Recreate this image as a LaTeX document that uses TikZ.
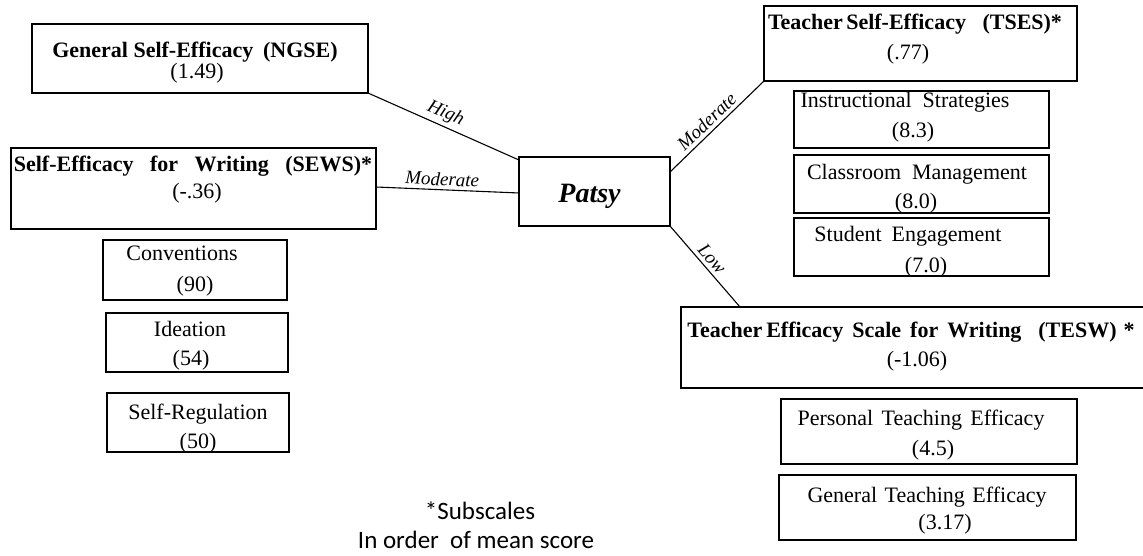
\documentclass[tikz,border=0pt]{standalone}
\usepackage{fontspec}
\setmainfont{Liberation Serif}
\newfontfamily\calibfont{Carlito}
\begin{document}
\begin{tikzpicture}[x=1pt,y=-1pt,
  bx/.style={draw=black, line width=1.1pt, inner sep=0pt, outer sep=0pt},
  tx/.style={anchor=base, inner sep=0pt, font=\fontsize{22}{26}\selectfont},
  btx/.style={anchor=base, inner sep=0pt, font=\fontsize{22}{26}\selectfont\bfseries},
  elab/.style={sloped, above, inner sep=3.5pt, font=\fontsize{19}{22}\selectfont\itshape},
  foot/.style={anchor=base, inner sep=0pt, font=\calibfont\fontsize{25}{30}\selectfont},
  conn/.style={line width=1.1pt}
]
\fill[white] (0,0) rectangle (1143,556);
\useasboundingbox (0,0) rectangle (1143,556);

% ---- boxes ----
\node[bx, minimum width=336pt, minimum height=69pt] (ngse) at (200,58.5) {};
\node[bx, minimum width=365pt, minimum height=81pt] (sews) at (193.5,188.5) {};
\node[bx, minimum width=184pt, minimum height=60pt] (conv) at (195,270) {};
\node[bx, minimum width=182pt, minimum height=59pt] (idea) at (197,342.5) {};
\node[bx, minimum width=182pt, minimum height=59pt] (sreg) at (198,422.5) {};
\node[bx, minimum width=151pt, minimum height=69pt] (patsy) at (594.5,191.5) {};
\node[bx, minimum width=313pt, minimum height=75pt] (tses) at (920.5,43.5) {};
\node[bx, minimum width=255pt, minimum height=57pt] (instr) at (921.5,119.5) {};
\node[bx, minimum width=255pt, minimum height=58pt] (class) at (921.5,184) {};
\node[bx, minimum width=255pt, minimum height=58pt] (stud) at (921.5,247) {};
\node[bx, minimum width=465pt, minimum height=81pt] (tesw) at (913.5,347.5) {};
\node[bx, minimum width=296pt, minimum height=65pt] (pers) at (929,431.5) {};
\node[bx, minimum width=297pt, minimum height=65pt] (gen) at (927.5,507.5) {};

% ---- texts ----
\node[btx] (ngseA) at (195,58) {General Self-Efficacy\hspace{0.45em}(NGSE)};
\node[tx] (ngseB) at (197,79) {(1.49)};

\node[btx] (sewsA) at (193,172) {Self-Efficacy\hspace{0.75em}for\hspace{0.75em}Writing\hspace{0.75em}(SEWS)*};
\node[tx] (sewsB) at (197,199) {(-.36)};

\node[tx] (convA) at (182,260) {Conventions};
\node[tx] (convB) at (195,291) {(90)};
\node[tx] (ideaA) at (190,336) {Ideation};
\node[tx] (ideaB) at (191,365) {(54)};
\node[tx] (sregA) at (198,419) {Self-Regulation};
\node[tx] (sregB) at (198,448) {(50)};

\node[anchor=base, inner sep=0pt, font=\fontsize{28}{32}\selectfont\bfseries\itshape] (patsyT) at (589.5,203) {Patsy};

\node[btx] (tsesA) at (915,30) {Teacher\hspace{0.15em}Self-Efficacy\hspace{0.75em}(TSES)*};
\node[tx] (tsesB) at (908,60) {(.77)};

\node[tx] (instrA) at (905,108) {Instructional\hspace{0.5em}Strategies};
\node[tx] (instrB) at (913,138) {(8.3)};
\node[tx] (classA) at (917,180) {Classroom\hspace{0.5em}Management};
\node[tx] (classB) at (916,208) {(8.0)};
\node[tx] (studA) at (908,241) {Student\hspace{0.45em}Engagement};
\node[tx] (studB) at (926,272) {(7.0)};

\node[btx] (teswA) at (911,337) {Teacher\hspace{0.18em}Efficacy\hspace{0.41em}Scale\hspace{0.41em}for\hspace{0.41em}Writing\hspace{0.77em}(TESW)\hspace{0.32em}*};
\node[tx] (teswB) at (917,366) {(-1.06)};

\node[tx] (persA) at (921,425) {Personal\hspace{0.38em}Teaching\hspace{0.38em}Efficacy};
\node[tx] (persB) at (933,455) {(4.5)};
\node[tx] (genA) at (927,502) {General\hspace{0.34em}Teaching\hspace{0.34em}Efficacy};
\node[tx] (genB) at (945,529) {(3.17)};

\node[foot] (footA) at (480,519) {*Subscales};
\node[foot] (footB) at (476,548) {In order\ \ of mean score};

% ---- connectors ----
\draw[conn] (ngse.south east) -- node[elab, pos=0.48] (lhigh) {High} ([yshift=-3pt]patsy.north west);
\draw[conn] ([yshift=1.5pt]sews.east) -- node[elab, pos=0.46] (lmod1) {Moderate} ([yshift=-1.5pt]patsy.west);
\draw[conn] ([yshift=-15pt]patsy.north east) -- node[elab, pos=0.47] (lmod2) {Moderate} (tses.south west);
\draw[conn] (patsy.south east) -- node[elab, pos=0.49] (llow) {Low} ([xshift=59pt]tesw.north west);
\end{tikzpicture}
\end{document}
